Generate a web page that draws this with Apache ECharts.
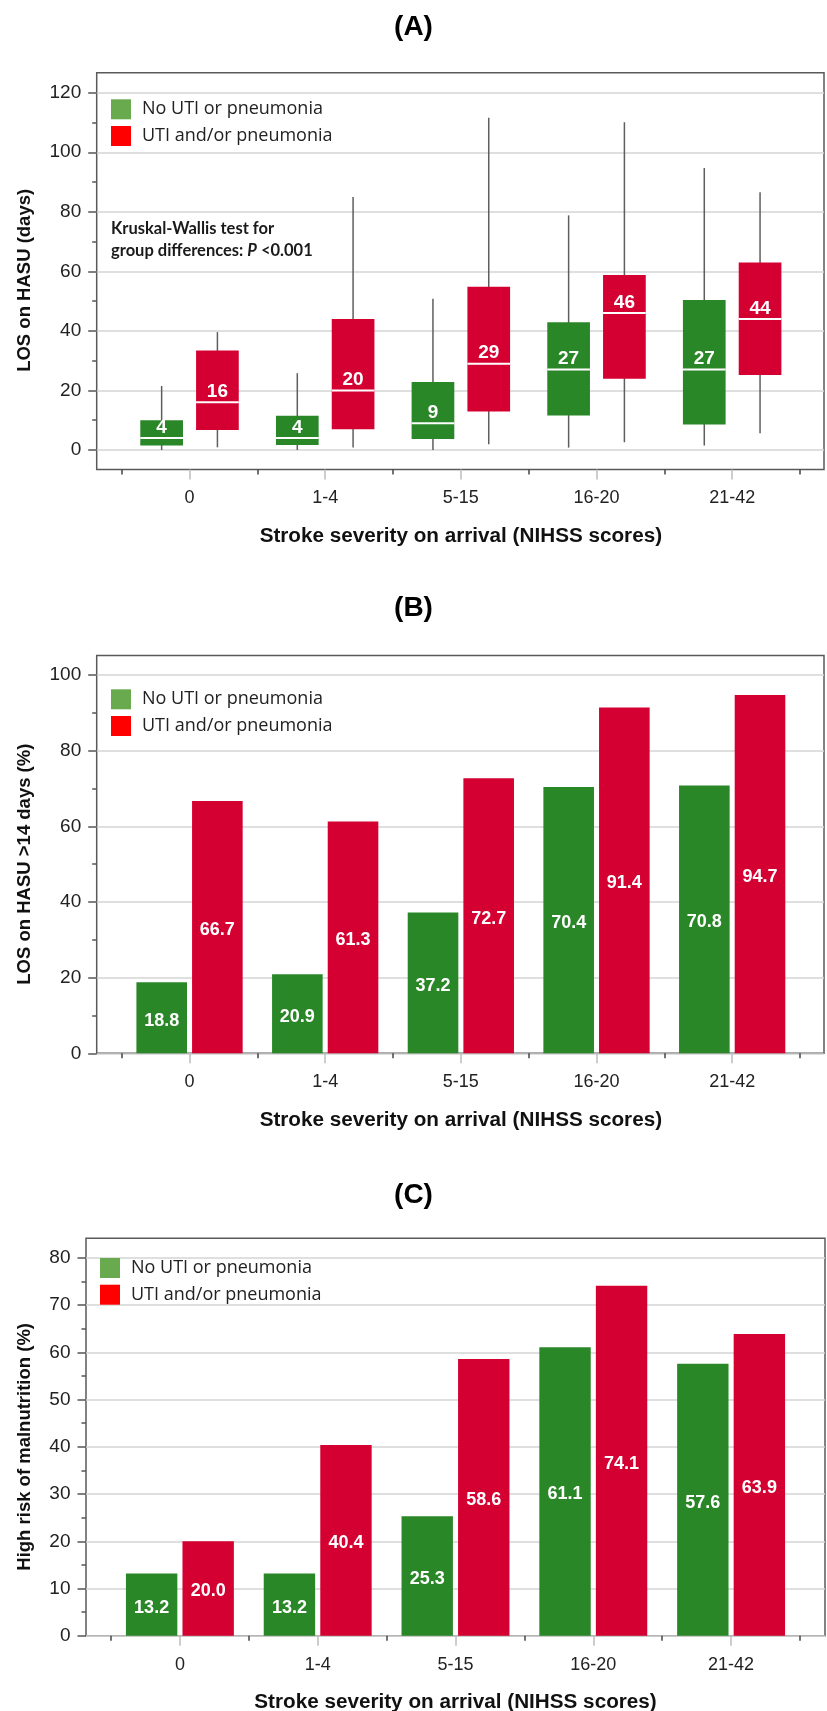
<!DOCTYPE html>
<html>
<head>
<meta charset="utf-8">
<script src="https://cdn.jsdelivr.net/npm/echarts@6/dist/echarts.min.js"></script>
<style>
html,body{margin:0;padding:0;background:#fff;}
#chart{width:827px;height:1711px;}
</style>
</head>
<body>
<div id="chart"></div>
<script>
// ---------------- DATA ----------------
const categories = ['0', '1-4', '5-15', '16-20', '21-42'];
const seriesNames = ['No UTI or pneumonia', 'UTI and/or pneumonia'];

// (A) LOS on HASU (days): [lower whisker, Q1, median, Q3, upper whisker]
const losNoInfection = [
  [0, 1.5, 4, 10, 21.5],
  [0, 1.7, 4, 11.5, 25.8],
  [0, 3.7, 9, 22.8, 50.8],
  [0.8, 11.6, 27, 42.9, 78.8],
  [1.5, 8.6, 27, 50.4, 94.7]
];
const losInfection = [
  [0.9, 6.7, 16, 33.4, 39.6],
  [0.8, 7.0, 20, 44, 85],
  [1.9, 12.9, 29, 54.8, 111.6],
  [2.6, 23.9, 46, 58.8, 110.1],
  [5.6, 25.2, 44, 63, 86.6]
];

// (B) LOS on HASU > 14 days (%)
const over14NoInfection = [18.8, 20.9, 37.2, 70.4, 70.8];
const over14Infection = [66.7, 61.3, 72.7, 91.4, 94.7];

// (C) High risk of malnutrition (%)
const malnutNoInfection = [13.2, 13.2, 25.3, 61.1, 57.6];
const malnutInfection = [20.0, 40.4, 58.6, 74.1, 63.9];

// y-axis ranges (tick labels come from min / max / interval)
const yAxisA = { min: 0, max: 120, interval: 20 };
const yAxisB = { min: 0, max: 100, interval: 20 };
const yAxisC = { min: 0, max: 80, interval: 10 };

const panelTitles = ['A', 'B', 'C'];
const yTitles = ['LOS on HASU (days)', 'LOS on HASU >14 days (%)', 'High risk of malnutrition (%)'];
const xTitle = 'Stroke severity on arrival (NIHSS scores)';

// ---------------- STYLE / LAYOUT ----------------
const FONT = '"Liberation Sans", Arial, Helvetica, sans-serif';
const GREEN = '#2a8728', RED = '#d50032';
const LEG_GREEN = '#6aaa4f', LEG_RED = '#ff0000';
const W = 827, H = 1711;

const layout = [
  { frame: [96.7, 72.7, 824, 469.5], plot: [92.7, 450], band: [121.7, 800], yAxis: yAxisA,
    legend: [111, 99.3], titleTop: 12, yPad: [0, 18, 0, 0] },
  { frame: [96.7, 655.5, 824, 1053.3], plot: [675, 1053.3], band: [121.7, 800], yAxis: yAxisB,
    legend: [111, 689.3], titleTop: 593, yPad: 0 },
  { frame: [86, 1238.3, 825, 1635.7], plot: [1258, 1635.7], band: [111, 800], yAxis: yAxisC,
    legend: [100, 1258], titleTop: 1180, yPad: 0 }
];

const grid = [], xAxis = [], yAxis = [], series = [], legend = [], title = [];

layout.forEach((L, p) => {
  const [fl, ft, fr, fb] = L.frame;
  const [pt, pb] = L.plot;
  const [bl, br] = L.band;
  const gF = 3 * p, gG = 3 * p + 1, gD = 3 * p + 2;
  const axisOffset = fb - pb;

  // frame grid
  grid.push({ left: fl, top: ft, width: fr - fl, height: fb - ft, show: true,
    borderColor: '#5a5a5a', borderWidth: 1.5, backgroundColor: 'transparent', outerBoundsMode: 'none' });
  // gridline grid (full width)
  grid.push({ left: fl, top: pt, width: fr - fl, height: pb - pt, outerBoundsMode: 'none' });
  // data grid (category band)
  grid.push({ left: bl, top: pt, width: br - bl, height: pb - pt, outerBoundsMode: 'none' });

  // x axes
  xAxis.push({ gridIndex: gF, type: 'value', show: false, min: 0, max: 1 });
  xAxis.push({ gridIndex: gG, type: 'value', show: false, min: 0, max: 1 });
  xAxis.push({
    gridIndex: gD, type: 'category', data: categories, position: 'bottom', offset: axisOffset,
    axisLine: { show: false, onZero: false },
    axisTick: { show: true, length: 5, lineStyle: { color: '#444', width: 1.5 } },
    axisLabel: { show: true, margin: 20, fontSize: 18, color: '#222', fontFamily: FONT },
    name: xTitle, nameLocation: 'middle', nameGap: 56, nameMoveOverlap: false,
    nameTextStyle: { fontSize: 20.7, fontWeight: 'bold', color: '#111', fontFamily: FONT }
  });
  xAxis.push({
    gridIndex: gD, type: 'category', data: categories, position: 'bottom', offset: axisOffset,
    axisLine: { show: false, onZero: false },
    axisTick: { show: true, alignWithLabel: true, length: 10, lineStyle: { color: '#bdbdbd', width: 1.5 } },
    axisLabel: { show: false }
  });

  // y axes
  const ya = L.yAxis;
  yAxis.push({ gridIndex: gF, type: 'value', show: false, min: 0, max: 1 });
  yAxis.push({
    gridIndex: gG, type: 'value', min: ya.min, max: ya.max, interval: ya.interval,
    axisLine: { show: false },
    axisTick: { show: true, length: 8.5, lineStyle: { color: '#555', width: 1.5 } },
    minorTick: { show: true, splitNumber: 2, length: 4.5, lineStyle: { color: '#555', width: 1.5 } },
    splitLine: { show: true, lineStyle: { color: '#d4d4d4', width: 1.5 } },
    axisLabel: { margin: 15.5, fontSize: 19, color: '#222', fontFamily: FONT },
    name: yTitles[p], nameLocation: 'middle', nameRotate: 90, nameMoveOverlap: false,
    nameGap: fl - 25 - 9.3,
    nameTextStyle: { fontSize: 18.5, fontWeight: 'bold', color: '#111', fontFamily: FONT, padding: L.yPad }
  });
  yAxis.push({ gridIndex: gD, type: 'value', show: false, min: ya.min, max: ya.max, interval: ya.interval });

  legend.push({
    left: L.legend[0], top: L.legend[1], orient: 'vertical', padding: 0,
    itemWidth: 20, itemHeight: 20, itemGap: 6.7, icon: 'rect', selectedMode: false,
    data: [
      { name: seriesNames[0], itemStyle: { color: LEG_GREEN } },
      { name: seriesNames[1], itemStyle: { color: LEG_RED } }
    ],
    textStyle: { fontFamily: '"Open Sans", sans-serif', fontSize: 18, color: '#222', padding: [0, 0, 0, 6] }
  });

  title.push({
    text: '{p|(}{b|' + panelTitles[p] + '}{p|)}', left: 'center', top: L.titleTop, padding: 0,
    textStyle: { rich: {
      p: { fontSize: 28, fontFamily: FONT, color: '#000', lineHeight: 30 },
      b: { fontSize: 28, fontFamily: FONT, color: '#000', fontWeight: 'bold', lineHeight: 30 }
    } }
  });
});

// ---------- (A) box plots via custom series ----------
function boxRenderer(color, offsetFrac) {
  return function (params, api) {
    const ci = api.value(0);
    const band = api.size([1, 0])[0];
    const cx = api.coord([ci, 0])[0] + offsetFrac * band;
    const w = 0.3147 * band;
    const yLow = api.coord([ci, api.value(1)])[1];
    const yQ1 = api.coord([ci, api.value(2)])[1];
    const med = api.value(3);
    const yMed = api.coord([ci, med])[1];
    const yQ3 = api.coord([ci, api.value(4)])[1];
    const yHigh = api.coord([ci, api.value(5)])[1];
    return {
      type: 'group',
      children: [
        { type: 'line', shape: { x1: cx, y1: yHigh, x2: cx, y2: yLow },
          style: { stroke: '#5e5e5e', lineWidth: 1.5 } },
        { type: 'rect', shape: { x: cx - w / 2, y: yQ3, width: w, height: yQ1 - yQ3 },
          style: { fill: color } },
        { type: 'line', shape: { x1: cx - w / 2, y1: yMed, x2: cx + w / 2, y2: yMed },
          style: { stroke: '#ffffff', lineWidth: 2 } },
        { type: 'text', x: cx, y: yMed - 1,
          style: { text: String(med), fill: '#fff', fontSize: 19, fontWeight: 'bold', fontFamily: FONT,
                   align: 'center', verticalAlign: 'bottom' } }
      ]
    };
  };
}

series.push({
  name: seriesNames[0], type: 'custom', xAxisIndex: 2, yAxisIndex: 2,
  itemStyle: { color: GREEN },
  data: losNoInfection.map((d, i) => [i].concat(d)),
  encode: { x: 0, y: [1, 2, 3, 4, 5] },
  renderItem: boxRenderer(GREEN, -0.2056)
});
series.push({
  name: seriesNames[1], type: 'custom', xAxisIndex: 2, yAxisIndex: 2,
  itemStyle: { color: RED },
  data: losInfection.map((d, i) => [i].concat(d)),
  encode: { x: 0, y: [1, 2, 3, 4, 5] },
  renderItem: boxRenderer(RED, 0.2056)
});

// ---------- (B) and (C) bars ----------
const barLabel = {
  show: true, position: 'inside', offset: [0, 3], color: '#fff', fontWeight: 'bold',
  fontSize: 18, fontFamily: FONT, formatter: (p) => p.value.toFixed(1)
};
[[over14NoInfection, over14Infection, 1], [malnutNoInfection, malnutInfection, 2]].forEach(([g, r, p]) => {
  series.push({ name: seriesNames[0], type: 'bar', xAxisIndex: 4 * p + 2, yAxisIndex: 3 * p + 2,
    data: g, barWidth: '37.3%', barGap: '10%', itemStyle: { color: GREEN }, label: barLabel });
  series.push({ name: seriesNames[1], type: 'bar', xAxisIndex: 4 * p + 2, yAxisIndex: 3 * p + 2,
    data: r, barWidth: '37.3%', barGap: '10%', itemStyle: { color: RED }, label: barLabel });
});

const chart = echarts.init(document.getElementById('chart'), null, { renderer: 'canvas', width: W, height: H });
chart.setOption({
  backgroundColor: '#fff',
  animation: false,
  title, legend, grid, xAxis, yAxis, series,
  graphic: [{
    type: 'text', left: 111, top: 220,
    style: {
      text: '{b|Kruskal-Wallis test for}\n{b|group differences: }{i|P}{b| <0.001}',
      rich: {
        b: { fontFamily: 'Lato, "Open Sans", sans-serif', fontWeight: 'bold', fontSize: 16.5, lineHeight: 21.7, fill: '#1a1a1a' },
        i: { fontFamily: 'Lato, "Open Sans", sans-serif', fontWeight: 'bold', fontStyle: 'italic', fontSize: 16.5, lineHeight: 21.7, fill: '#1a1a1a' }
      }
    }
  }]
});
</script>
</body>
</html>
